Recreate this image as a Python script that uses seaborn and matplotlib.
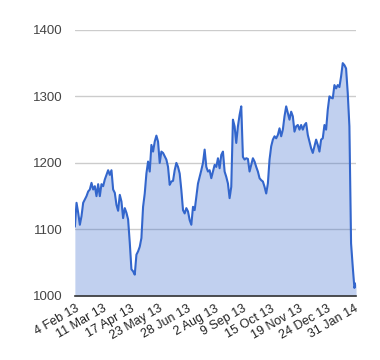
import matplotlib
matplotlib.use("Agg")
import matplotlib.pyplot as plt
import seaborn as sns
import numpy as np
import pandas as pd

# closing values, evenly spaced along the date axis
values = [
    1104, 1140, 1125, 1107, 1120, 1140, 1145, 1150, 1157, 1160,
    1170, 1160, 1165, 1150, 1168, 1150, 1168, 1165, 1175, 1182,
    1189, 1182, 1189, 1160, 1155, 1137, 1128, 1152, 1142, 1117,
    1132, 1125, 1115, 1080, 1040, 1037, 1032, 1062, 1067, 1074,
    1087, 1134, 1154, 1184, 1202, 1187, 1227, 1217, 1232, 1241,
    1232, 1200, 1217, 1215, 1210, 1205, 1194, 1167, 1172, 1173,
    1189, 1200, 1194, 1184, 1159, 1129, 1124, 1132, 1127, 1114,
    1107, 1134, 1129, 1149, 1169, 1179, 1189, 1200, 1220, 1194,
    1187, 1189, 1177, 1187, 1197, 1194, 1207, 1192, 1212, 1217,
    1187, 1179, 1169, 1147, 1164, 1265, 1255, 1230, 1255, 1272,
    1285, 1209, 1205, 1207, 1206, 1187, 1197, 1207, 1202, 1194,
    1187, 1177, 1174, 1172, 1164, 1154, 1169, 1205, 1225, 1235,
    1240, 1237, 1242, 1252, 1240, 1250, 1270, 1285, 1275, 1265,
    1277, 1270, 1247, 1255, 1257, 1250, 1257, 1250, 1257, 1260,
    1242, 1232, 1222, 1215, 1225, 1235, 1227, 1217, 1235, 1237,
    1257, 1250, 1280, 1300, 1298, 1297, 1317, 1312, 1317, 1314,
    1330, 1350, 1347, 1342, 1305, 1255, 1079, 1044, 1012, 1019,
]
tick_labels = ["4 Feb 13", "11 Mar 13", "17 Apr 13", "23 May 13", "28 Jun 13",
               "2 Aug 13", "9 Sep 13", "15 Oct 13", "19 Nov 13", "24 Dec 13",
               "31 Jan 14"]
y_ticks = [1000, 1100, 1200, 1300, 1400]

df = pd.DataFrame({"idx": np.arange(len(values)), "value": values})

sns.set_style("white")
plt.rcParams["font.family"] = ["Liberation Sans", "DejaVu Sans"]

fig = plt.figure(figsize=(3.8, 3.6), dpi=100)
ax = fig.add_axes([0.197, 0.178, 0.74, 0.739])

blue = "#3366cc"
for y in y_ticks[1:]:
    ax.axhline(y, color="#cccccc", lw=1, zorder=0)
ax.fill_between(df["idx"], 1000, df["value"], color=blue, alpha=0.3, lw=0, zorder=1)
sns.lineplot(data=df, x="idx", y="value", ax=ax, color=blue, lw=1.5, zorder=2)

ax.set_xlim(0, len(values) - 1)
ax.set_ylim(1000, 1400)
ax.set_yticks(y_ticks)
ax.set_yticklabels([str(v) for v in y_ticks], fontsize=9.5, color="#444444")
tick_pos = np.linspace(0, len(values) - 2, len(tick_labels))
ax.set_xticks(tick_pos)
ax.set_xticklabels(tick_labels, rotation=30, ha="right", rotation_mode="anchor",
                   fontsize=9, color="#222222")
ax.tick_params(axis="y", length=0, pad=9)
ax.tick_params(axis="x", length=0, pad=5)
ax.set_xlabel("")
ax.set_ylabel("")
for s in ["left", "right", "top"]:
    ax.spines[s].set_visible(False)
ax.spines["bottom"].set_color("#333333")
ax.spines["bottom"].set_linewidth(1.2)
ax.spines["bottom"].set_zorder(3)

fig.savefig("out.png", dpi=100)
